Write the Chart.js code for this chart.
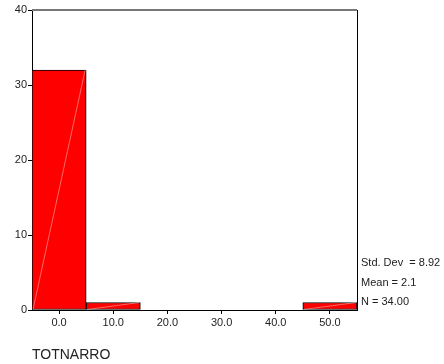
<!DOCTYPE html>
<html>
<head>
<meta charset="utf-8">
<script src="https://cdn.jsdelivr.net/npm/chart.js@4/dist/chart.umd.min.js"></script>
<style>
    body { margin: 0; background: #fff; }
    #wrap { width: 444px; height: 364px; }
</style>
</head>
<body>
<div id="wrap"><canvas id="histograma" width="444" height="364"></canvas></div>
<script>
// dados do histograma (SPSS)
const binLabels = ['0.0', '10.0', '20.0', '30.0', '40.0', '50.0'];
const counts    = [32, 1, 0, 0, 0, 1];
const yMax      = 40;
const yStep     = 10;
const varName   = 'TOTNARRO';
const statLines = ['Std. Dev  = 8.92', 'Mean = 2.1', 'N = 34.00'];

const fonte = "'Liberation Sans', Arial, sans-serif";

// linha diagonal clara dentro das barras + moldura + textos
const extras = {
    id: 'extras',
    afterDatasetsDraw(chart) {
        const ctx = chart.ctx;
        const meta = chart.getDatasetMeta(0);
        ctx.save();
        ctx.strokeStyle = 'rgba(255,255,255,0.4)';
        ctx.lineWidth = 1;
        meta.data.forEach((bar, i) => {
            if (!counts[i]) return;
            const p = bar.getProps(['x', 'y', 'base', 'width'], true);
            ctx.beginPath();
            ctx.moveTo(p.x - p.width / 2 + 1, p.base);
            ctx.lineTo(p.x + p.width / 2 - 1, p.y);
            ctx.stroke();
        });
        ctx.restore();
    },
    afterDraw(chart) {
        const ctx = chart.ctx;
        const a = chart.chartArea;
        ctx.save();
        // borda superior cinza e direita preta
        ctx.strokeStyle = '#777';
        ctx.lineWidth = 2;
        ctx.beginPath();
        ctx.moveTo(a.left, a.top);
        ctx.lineTo(a.right, a.top);
        ctx.stroke();
        ctx.strokeStyle = '#000';
        ctx.lineWidth = 1;
        ctx.beginPath();
        ctx.moveTo(a.right + 0.5, a.top);
        ctx.lineTo(a.right + 0.5, a.bottom);
        ctx.stroke();

        ctx.fillStyle = '#222';
        ctx.textBaseline = 'middle';
        ctx.textAlign = 'left';
        ctx.font = `11px ${fonte}`;
        statLines.forEach((t, i) => {
            ctx.fillText(t, a.right + 4, a.bottom - 47 + i * 19.5);
        });

        ctx.font = `14px ${fonte}`;
        ctx.fillText(varName, a.left, 355);
        ctx.restore();
    }
};

new Chart(document.getElementById('histograma'), {
    type: 'bar',
    data: {
        labels: binLabels,
        datasets: [{
            data: counts,
            backgroundColor: '#ff0000',
            borderColor: '#000',
            borderWidth: 1,
            borderSkipped: false,
            barPercentage: 1,
            categoryPercentage: 1,
        }]
    },
    options: {
        responsive: false,
        animation: false,
        layout: { padding: { top: 10, right: 87, left: 0, bottom: 0 } },
        plugins: { legend: { display: false }, tooltip: { enabled: false } },
        scales: {
            x: {
                afterFit: s => { s.height = 54; },
                grid: { display: true, drawOnChartArea: false, offset: false, tickLength: 4, color: '#000' },
                border: { color: '#000', width: 1 },
                ticks: { padding: 2, color: '#222', font: { size: 11, family: fonte } }
            },
            y: {
                min: 0,
                max: yMax,
                afterFit: s => { s.width = 32; },
                grid: { display: true, drawOnChartArea: false, tickLength: 4, color: '#000' },
                border: { color: '#000', width: 1 },
                ticks: { stepSize: yStep, padding: 1, color: '#222', font: { size: 11, family: fonte } }
            }
        }
    },
    plugins: [extras]
});
</script>
</body>
</html>
